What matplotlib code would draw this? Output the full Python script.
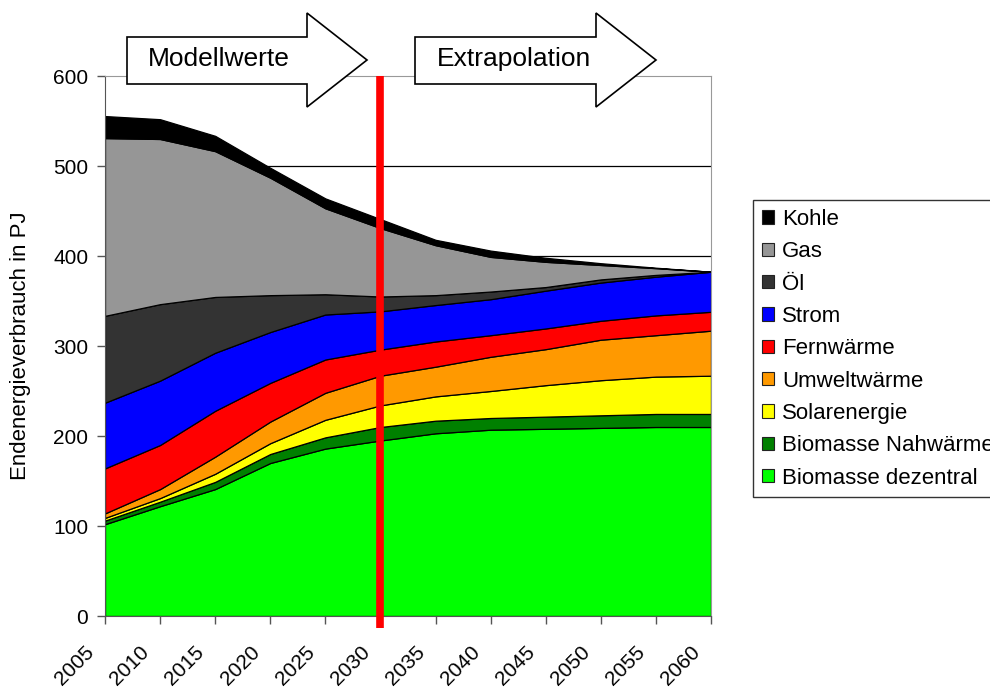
import matplotlib
matplotlib.use("Agg")
import matplotlib.pyplot as plt
from matplotlib.patches import Polygon, Patch
from matplotlib.transforms import ScaledTranslation

plt.rcParams['font.family'] = ['Liberation Sans', 'DejaVu Sans']

# ---------- data (PJ) ----------
years = [2005, 2010, 2015, 2020, 2025, 2030, 2035, 2040, 2045, 2050, 2055, 2060]

bio_dezentral = [102, 122, 141, 170, 186, 195, 203, 207, 208, 209, 210, 210]
bio_nahwaerme = [4, 5, 8, 10, 12.5, 15, 14, 13, 13.5, 14, 14.5, 14.5]
solar = [3, 4, 9, 12, 19.5, 24, 27, 30, 35, 39, 41.5, 42.5]
umwelt = [5, 10, 19, 24, 30, 33, 33, 38, 40, 45, 46, 50]
fernwaerme = [50, 49, 51, 43, 37, 29, 28, 24, 23, 21, 22, 21]
strom = [73, 71.5, 64.5, 56.5, 50, 42.5, 40.5, 40, 42, 42.5, 43, 44.5]
oel = [96.5, 85, 62, 41, 22.5, 16.5, 11, 8.5, 4, 3.5, 2, 0]
gas = [197.5, 183.5, 162, 130.5, 95.5, 76, 55.5, 38.5, 28, 16, 7.5, 0]
kohle = [24.5, 22, 17, 11, 11, 10, 6, 7, 4.5, 2, 0.5, 0]

labels = ['Biomasse dezentral', 'Biomasse Nahwärme', 'Solarenergie', 'Umweltwärme',
          'Fernwärme', 'Strom', 'Öl', 'Gas', 'Kohle']
colors = ['#00FF00', '#008000', '#FFFF00', '#FF9900',
          '#FF0000', '#0000FF', '#333333', '#969696', '#000000']
series = [bio_dezentral, bio_nahwaerme, solar, umwelt,
          fernwaerme, strom, oel, gas, kohle]

split_year = 2030

# ---------- plotting ----------
W, H = 990, 690
fig = plt.figure(figsize=(W / 100, H / 100), dpi=100)
ax = fig.add_axes([105 / W, 74 / H, 606 / W, 540 / H])

ax.stackplot(years, *series, colors=colors, edgecolor='black', linewidth=0.9, zorder=2)

ax.set_xlim(2005, 2060)
ax.set_ylim(0, 600)
ax.set_yticks(range(0, 601, 100))
ax.set_xticks(years)
ax.set_xticklabels([str(y) for y in years], rotation=45, ha='right', va='top')
ax.tick_params(axis='both', direction='out', length=6, width=1, labelsize=15, color='#555555')
ax.tick_params(axis='x', pad=4)
ax.tick_params(axis='y', pad=6)

# Jahreszahlen etwas weiter nach unten/links schieben
shift = ScaledTranslation(-0.07, -0.13, fig.dpi_scale_trans)
for lbl in ax.get_xticklabels():
    lbl.set_transform(lbl.get_transform() + shift)

# Gitternetz hinter den Flächen
for yv in range(100, 600, 100):
    ax.axhline(yv, color='black', linewidth=0.9, zorder=0)

for s in ['left', 'bottom']:
    ax.spines[s].set_color('#555555')
for s in ['top', 'right']:
    ax.spines[s].set_color('#999999')

# rote Trennlinie Modell / Extrapolation
ax.plot([split_year, split_year], [600, -13], color='#FF0000', linewidth=5.5,
        solid_capstyle='butt', clip_on=False, zorder=5)

fig.text(21 / W, 1 - 346 / H, 'Endenergieverbrauch in PJ', rotation=90,
         ha='center', va='center', fontsize=16)

# ---------- Pfeile oben ----------
def arrow(x0, x1, x2, text, tx):
    pts = [(x0, 37), (x1, 37), (x1, 13), (x2, 60), (x1, 107), (x1, 84), (x0, 84)]
    pts = [(px / W, 1 - py / H) for px, py in pts]
    fig.add_artist(Polygon(pts, closed=True, facecolor='white', edgecolor='black',
                           linewidth=1.2, transform=fig.transFigure, zorder=10))
    fig.text(tx / W, 1 - 59 / H, text, ha='left', va='center', fontsize=19, zorder=11)

arrow(127, 307, 367, 'Modellwerte', 148)
arrow(415, 596, 656, 'Extrapolation', 437)

# ---------- Legende ----------
handles = [Patch(facecolor=c, edgecolor='#222222', linewidth=0.8) for c in colors]
leg = fig.legend(handles[::-1], labels[::-1], loc='upper left',
                 bbox_to_anchor=(753 / W, 1 - 200 / H), bbox_transform=fig.transFigure,
                 borderaxespad=0, fontsize=16, frameon=True, fancybox=False,
                 handlelength=0.55, handleheight=0.55, handletextpad=0.35,
                 labelspacing=0.51, borderpad=0.4)
leg.get_frame().set_edgecolor('black')
leg.get_frame().set_linewidth(1)

fig.savefig('out.png', dpi=100)
